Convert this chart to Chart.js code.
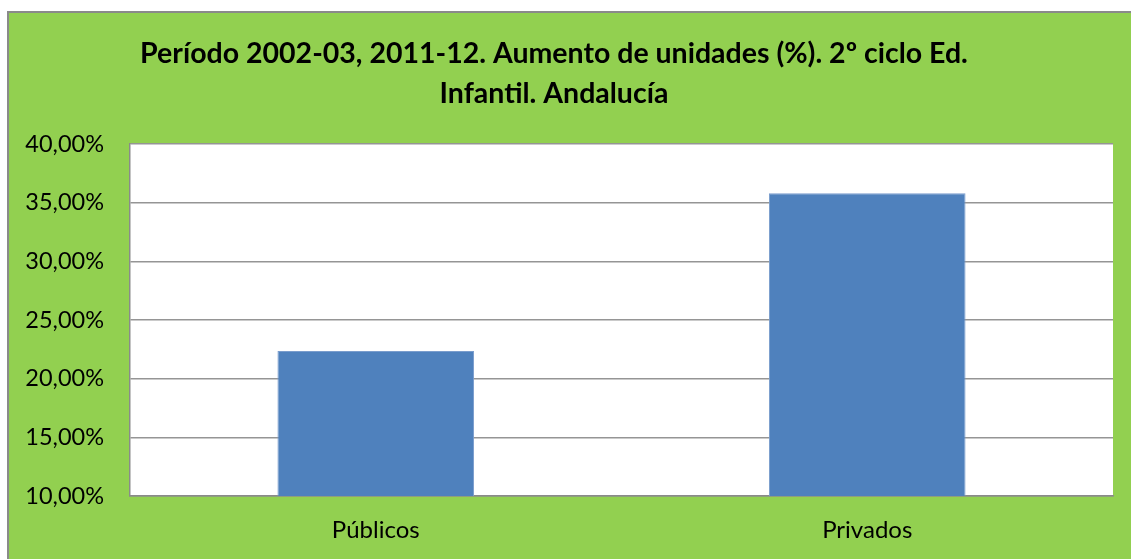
<!DOCTYPE html>
<html>
<head>
<meta charset="utf-8">
<script src="https://cdn.jsdelivr.net/npm/chart.js@4.4.1/dist/chart.umd.min.js"></script>
<style>
    body { margin: 0; background: #fff; overflow: hidden; }
    #frame {
        position: absolute; left: 7px; top: 11px; width: 1140px; height: 560px;
        background: #92D050; border-left: 2px solid #8a8a8a; border-top: 2px solid #8a8a8a;
    }
    #box { position: absolute; left: -10px; top: 0; width: 1141px; height: 559px; }
</style>
</head>
<body>
<div id="frame"></div>
<div id="box"><canvas id="barChart"></canvas></div>
<script>
// Chart data
var categories = ['Públicos', 'Privados'];
var increaseValues = [22.35, 35.8];
var titleLines = ['Período 2002-03, 2011-12. Aumento de unidades (%). 2º ciclo Ed.', 'Infantil. Andalucía'];

document.addEventListener("DOMContentLoaded", function () {
    // white plot area like the original sheet chart
    var plotBackground = {
        id: 'plotBackground',
        beforeDraw: function (chart) {
            var area = chart.chartArea;
            var ctx = chart.ctx;
            ctx.save();
            ctx.fillStyle = '#ffffff';
            ctx.fillRect(area.left, area.top, area.right - area.left, area.bottom - area.top);
            ctx.restore();
        }
    };

    var canvas = document.getElementById('barChart');

    new Chart(canvas, {
        type: 'bar',
        data: {
            labels: categories,
            datasets: [{
                data: increaseValues,
                backgroundColor: '#4F81BD',
                borderColor: '#7A9DCD',
                borderWidth: 1,
                barPercentage: 0.4,
                categoryPercentage: 1.0
            }]
        },
        options: {
            responsive: true,
            maintainAspectRatio: false,
            animation: false,
            layout: { padding: { left: 5, right: 18, top: 0, bottom: 0 } },
            plugins: {
                legend: { display: false },
                tooltip: { enabled: false },
                title: {
                    display: true,
                    text: titleLines,
                    color: '#000',
                    font: { family: 'Lato', size: 28.5, weight: 'bold', lineHeight: 40 / 28.5 },
                    padding: { top: 34, bottom: 30 }
                }
            },
            scales: {
                x: {
                    grid: { display: false, drawTicks: false },
                    border: { color: '#8a8a8a', width: 1.5 },
                    ticks: {
                        color: '#000',
                        padding: 20,
                        font: { family: 'Lato', size: 24 }
                    },
                    afterFit: function (scale) { scale.height = 63; }
                },
                y: {
                    min: 10,
                    max: 40,
                    ticks: {
                        stepSize: 5,
                        color: '#000',
                        padding: 26,
                        font: { family: 'Lato', size: 23.5 },
                        callback: function (value) {
                            return value.toFixed(2).replace('.', ',') + '%';
                        }
                    },
                    grid: { color: '#959595', lineWidth: 1.5, drawTicks: false },
                    border: { color: '#8a8a8a', width: 1.5 },
                    afterFit: function (scale) { scale.width = 135; }
                }
            }
        },
        plugins: [plotBackground]
    });
});
</script>
</body>
</html>
